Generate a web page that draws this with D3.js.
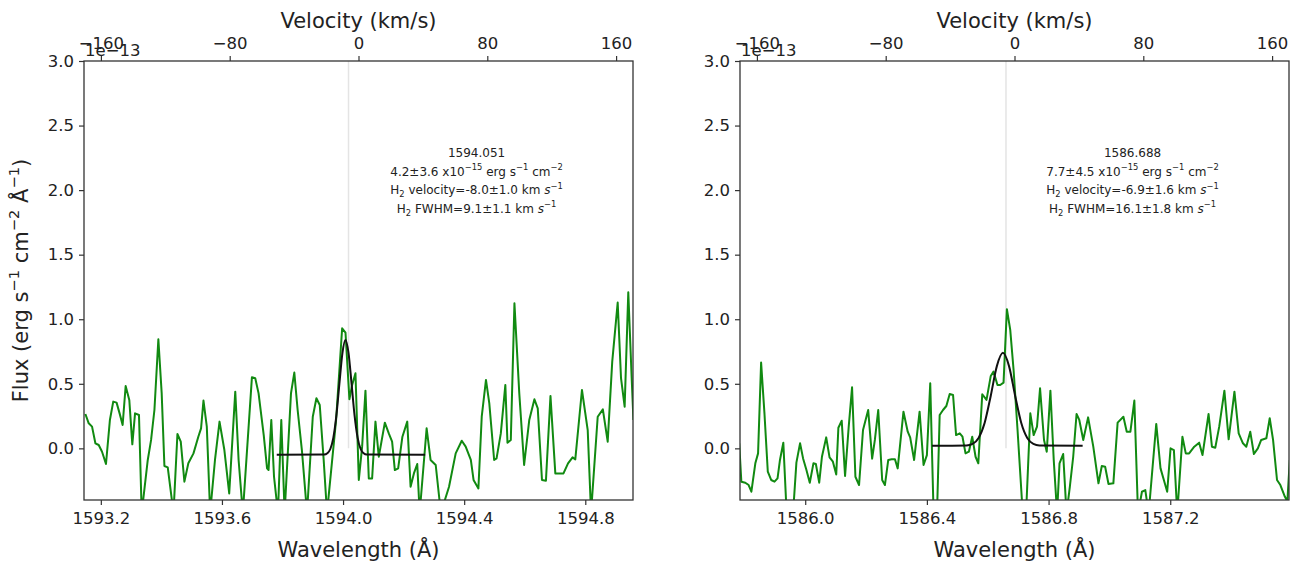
<!DOCTYPE html>
<html lang="en">
<head>
<meta charset="UTF-8">
<title>H2 line fits</title>
<script src="https://d3js.org/d3.v7.min.js"></script>
<style>
    body { margin: 0; background: #fff; }
    svg text { font-family: 'DejaVu Sans', sans-serif; fill: #222; }
    .axis line { stroke: #333; stroke-width: 1.2px; }
    .frame { fill: none; stroke: #333; stroke-width: 1.3px; }
</style>
</head>
<body>
<svg id="chart" width="1291" height="564"></svg>
<script>
const C_KMS = 299792.458;

// ---- panel 1: 1594.051 ----
const restWave1 = 1594.051;
const centerWave1 = 1594.018;
const wave1 = [1593.149,1593.160,1593.171,1593.182,1593.193,1593.204,1593.217,1593.230,1593.241,1593.252,
  1593.262,1593.272,1593.282,1593.294,1593.304,1593.313,1593.326,1593.335,1593.355,1593.366,
  1593.377,1593.390,1593.401,1593.410,1593.421,1593.440,1593.453,1593.464,1593.476,1593.489,
  1593.506,1593.522,1593.531,1593.539,1593.550,1593.561,1593.577,1593.592,1593.608,1593.624,
  1593.644,1593.655,1593.669,1593.699,1593.710,1593.721,1593.738,1593.749,1593.754,1593.763,
  1593.772,1593.785,1593.796,1593.807,1593.828,1593.839,1593.850,1593.864,1593.881,1593.900,
  1593.912,1593.923,1593.936,1593.947,1593.977,1593.997,1594.008,1594.021,1594.030,1594.041,
  1594.052,1594.063,1594.074,1594.085,1594.096,1594.107,1594.118,1594.138,1594.151,1594.162,
  1594.171,1594.182,1594.196,1594.212,1594.223,1594.234,1594.245,1594.253,1594.276,1594.289,
  1594.306,1594.323,1594.350,1594.372,1594.392,1594.405,1594.422,1594.431,1594.447,1594.458,
  1594.472,1594.483,1594.499,1594.507,1594.521,1594.536,1594.543,1594.554,1594.566,1594.582,
  1594.598,1594.615,1594.632,1594.643,1594.657,1594.670,1594.685,1594.701,1594.714,1594.728,
  1594.743,1594.758,1594.767,1594.789,1594.808,1594.819,1594.841,1594.858,1594.874,1594.889,
  1594.907,1594.918,1594.930,1594.942,1594.953,1594.959];
const flux1 = [0.266,0.194,0.168,0.039,0.026,-0.026,-0.121,0.220,0.362,0.354,
  0.271,0.181,0.483,0.375,0.031,0.271,0.258,-0.50,-0.090,0.065,
  0.297,0.845,0.426,-0.137,-0.147,-0.50,0.111,0.052,-0.258,-0.116,
  -0.039,0.090,0.155,0.370,0.168,-0.50,-0.090,0.207,-0.013,-0.349,
  0.439,-0.090,-0.50,0.550,0.543,0.426,0.103,-0.155,-0.168,0.220,
  -0.220,-0.50,0.220,-0.50,0.426,0.587,0.297,-0.013,-0.50,0.245,
  0.388,0.336,-0.090,-0.50,0.220,0.930,0.897,0.380,0.491,0.581,
  -0.245,0.013,0.447,-0.233,-0.233,0.207,-0.065,0.199,0.116,0.052,
  -0.168,-0.155,0.090,0.207,-0.297,-0.194,-0.121,-0.50,0.155,-0.090,
  -0.129,-0.50,-0.297,-0.039,0.059,0.013,-0.090,-0.245,-0.310,0.245,
  0.530,0.349,-0.090,-0.078,0.116,0.491,0.044,0.065,1.124,0.426,
  -0.129,0.220,0.380,0.310,-0.245,-0.251,0.406,-0.194,-0.194,-0.194,
  -0.116,-0.070,-0.085,0.452,0.142,-0.50,0.245,0.302,0.052,0.672,
  1.129,0.543,0.323,1.209,0.556,0.220];
const fitWave1 = [1593.781,1593.938,1593.948,1593.958,1593.968,1593.978,1593.988,1593.998,1594.008,
  1594.018,1594.028,1594.038,1594.048,1594.058,1594.068,1594.078,1594.271];
const fitFlux1 = [-0.05,-0.048,-0.038,-0.005,0.083,0.255,0.503,0.740,0.840,
  0.740,0.503,0.255,0.083,-0.005,-0.038,-0.048,-0.05];
const notes1 = [
    [["1594.051", ""]],
    [["4.2±3.6 x10", ""], ["−15", "sup"], [" erg s", ""], ["−1", "sup"], [" cm", ""], ["−2", "sup"]],
    [["H", ""], ["2", "sub"], [" velocity=-8.0±1.0 km ", ""], ["s", "it"], ["−1", "sup"]],
    [["H", ""], ["2", "sub"], [" FWHM=9.1±1.1 km ", ""], ["s", "it"], ["−1", "sup"]]
];
const waveTicks1 = [1593.2, 1593.6, 1594.0, 1594.4, 1594.8];

// ---- panel 2: 1586.688 ----
const restWave2 = 1586.688;
const centerWave2 = 1586.660;
const wave2 = [1585.783,1585.790,1585.803,1585.814,1585.823,1585.836,1585.845,1585.855,1585.866,1585.877,
  1585.888,1585.899,1585.909,1585.917,1585.928,1585.939,1585.960,1585.971,1585.983,1585.993,
  1586.004,1586.015,1586.027,1586.035,1586.046,1586.055,1586.069,1586.080,1586.091,1586.102,
  1586.109,1586.120,1586.131,1586.143,1586.154,1586.165,1586.177,1586.190,1586.207,1586.220,
  1586.229,1586.240,1586.253,1586.262,1586.273,1586.284,1586.295,1586.304,1586.323,1586.337,
  1586.345,1586.358,1586.376,1586.389,1586.400,1586.411,1586.422,1586.433,1586.442,1586.453,
  1586.464,1586.475,1586.486,1586.496,1586.508,1586.517,1586.527,1586.538,1586.549,1586.560,
  1586.569,1586.582,1586.596,1586.610,1586.619,1586.632,1586.641,1586.652,1586.663,1586.674,
  1586.685,1586.698,1586.715,1586.726,1586.740,1586.751,1586.762,1586.772,1586.785,1586.794,
  1586.806,1586.817,1586.828,1586.836,1586.848,1586.859,1586.870,1586.881,1586.892,1586.901,
  1586.914,1586.930,1586.947,1586.964,1586.975,1586.986,1586.997,1587.013,1587.027,1587.046,
  1587.057,1587.069,1587.082,1587.094,1587.107,1587.118,1587.129,1587.154,1587.168,1587.179,
  1587.190,1587.201,1587.212,1587.223,1587.240,1587.251,1587.262,1587.279,1587.295,1587.306,
  1587.326,1587.337,1587.348,1587.361,1587.378,1587.392,1587.411,1587.425,1587.439,1587.450,
  1587.463,1587.475,1587.488,1587.499,1587.516,1587.527,1587.538,1587.551,1587.562,1587.577,
  1587.585,1587.593];
const flux2 = [0.039,-0.258,-0.266,-0.284,-0.336,-0.116,-0.039,0.664,0.271,-0.181,
  -0.245,-0.258,-0.233,-0.090,0.044,-0.504,-0.504,-0.111,0.039,-0.078,
  -0.168,-0.266,-0.116,-0.121,-0.266,-0.065,0.085,-0.070,-0.103,-0.202,
  0.160,0.214,-0.214,0.168,0.473,-0.220,-0.284,0.142,0.297,-0.080,
  0.065,0.297,-0.245,-0.284,-0.090,-0.085,-0.085,-0.155,0.284,0.129,
  0.085,-0.090,0.284,-0.129,-0.052,0.504,-0.504,-0.530,0.258,0.297,
  0.328,0.421,0.413,0.103,0.116,0.090,-0.039,-0.026,0.090,-0.065,
  -0.116,0.419,0.375,0.561,0.594,0.491,0.491,0.509,1.078,0.917,
  0.607,0.142,-0.50,-0.504,0.271,0.103,0.168,0.465,0.065,-0.026,
  0.447,-0.090,-0.504,-0.116,-0.044,-0.504,-0.297,-0.065,0.266,0.220,
  0.065,0.240,0.013,-0.271,-0.137,-0.142,-0.276,-0.271,0.199,0.245,
  0.129,0.129,0.370,-0.504,-0.336,-0.323,-0.504,0.189,-0.155,-0.245,
  -0.336,0.0,-0.013,-0.504,0.090,-0.039,-0.039,0.013,0.044,-0.052,
  0.266,0.013,0.005,0.168,0.447,0.070,0.439,0.116,0.039,0.013,
  0.129,-0.044,0.0,0.065,0.078,0.233,0.065,-0.245,-0.284,-0.375,
  -0.41,-0.090];
const fitWave2 = [1586.417,1586.530,1586.550,1586.570,1586.590,1586.610,1586.630,1586.650,
  1586.670,1586.690,1586.710,1586.730,1586.750,1586.770,1586.912];
const fitFlux2 = [0.020,0.023,0.035,0.081,0.199,0.408,0.637,0.740,
  0.637,0.408,0.199,0.081,0.035,0.023,0.020];
const notes2 = [
    [["1586.688", ""]],
    [["7.7±4.5 x10", ""], ["−15", "sup"], [" erg s", ""], ["−1", "sup"], [" cm", ""], ["−2", "sup"]],
    [["H", ""], ["2", "sub"], [" velocity=-6.9±1.6 km ", ""], ["s", "it"], ["−1", "sup"]],
    [["H", ""], ["2", "sub"], [" FWHM=16.1±1.8 km ", ""], ["s", "it"], ["−1", "sup"]]
];
const waveTicks2 = [1586.0, 1586.4, 1586.8, 1587.2];

// ---- shared ----
const velTicks = [-160, -80, 0, 80, 160];
const fluxTicks = [0.0, 0.5, 1.0, 1.5, 2.0, 2.5, 3.0];
const fluxDomain = [-0.4, 3.0];
const velHalfRange = 170.5;
const offsetLabel = "1e−13";

const plotTop = 61, plotBottom = 500;
const panels = [
    { left: 84, right: 633, rest: restWave1, center: centerWave1, wave: wave1, flux: flux1,
      fitW: fitWave1, fitF: fitFlux1, notes: notes1, ticks: waveTicks1, yLabel: true },
    { left: 740, right: 1289, rest: restWave2, center: centerWave2, wave: wave2, flux: flux2,
      fitW: fitWave2, fitF: fitFlux2, notes: notes2, ticks: waveTicks2, yLabel: false }
];

const svg = d3.select("#chart");
const minus = s => String(s).replace("-", "−");

// writes text with sub/superscripts as tspans
function richText(sel, parts, fs) {
    let shift = 0;
    parts.forEach(([str, kind]) => {
        const t = sel.append("tspan").text(str);
        let target = 0, size = fs;
        if (kind === "sup") { target = -0.42 * fs; size = fs * 0.7; }
        if (kind === "sub") { target = 0.25 * fs; size = fs * 0.7; }
        if (kind === "it") t.attr("font-style", "italic");
        t.attr("dy", target - shift).attr("font-size", size);
        shift = target;
    });
}

function styleAxis(g, fs) {
    g.select(".domain").remove();
    g.selectAll("text").attr("font-size", fs).attr("font-family", "'DejaVu Sans', sans-serif").attr("fill", "#222");
    g.selectAll("line").attr("stroke", "#333").attr("stroke-width", 1.2);
}

panels.forEach((p, i) => {
    const dw = p.rest * velHalfRange / C_KMS;
    const x = d3.scaleLinear().domain([p.rest - dw, p.rest + dw]).range([p.left, p.right]);
    const v = d3.scaleLinear().domain([-velHalfRange, velHalfRange]).range([p.left, p.right]);
    const y = d3.scaleLinear().domain(fluxDomain).range([plotBottom, plotTop]);

    const clipId = "clip" + i;
    svg.append("clipPath").attr("id", clipId).append("rect")
        .attr("x", p.left).attr("y", plotTop)
        .attr("width", p.right - p.left).attr("height", plotBottom - plotTop);

    const g = svg.append("g").attr("clip-path", `url(#${clipId})`);

    // faint marker at the fitted line centre
    g.append("line")
        .attr("x1", x(p.center)).attr("x2", x(p.center))
        .attr("y1", y(0)).attr("y2", y(3.0))
        .attr("stroke", "#e4e4e4").attr("stroke-width", 1.5);

    const spec = p.wave.map((w, k) => [w, p.flux[k]]);
    g.append("path").datum(spec)
        .attr("fill", "none").attr("stroke", "#118a11").attr("stroke-width", 2)
        .attr("stroke-linejoin", "round")
        .attr("d", d3.line().x(d => x(d[0])).y(d => y(d[1])));

    const fit = p.fitW.map((w, k) => [w, p.fitF[k]]);
    g.append("path").datum(fit)
        .attr("fill", "none").attr("stroke", "#111").attr("stroke-width", 2)
        .attr("d", d3.line().curve(d3.curveMonotoneX).x(d => x(d[0])).y(d => y(d[1])));

    // axes
    svg.append("g").attr("class", "axis")
        .attr("transform", `translate(0,${plotBottom})`)
        .call(d3.axisBottom(x).tickValues(p.ticks).tickFormat(d3.format(".1f")).tickSize(5).tickPadding(7))
        .call(a => styleAxis(a, 16.5));

    svg.append("g").attr("class", "axis")
        .attr("transform", `translate(0,${plotTop})`)
        .call(d3.axisTop(v).tickValues(velTicks).tickFormat(d => minus(d)).tickSize(5).tickPadding(7))
        .call(a => styleAxis(a, 16.5));

    svg.append("g").attr("class", "axis")
        .attr("transform", `translate(${p.left},0)`)
        .call(d3.axisLeft(y).tickValues(fluxTicks).tickFormat(d3.format(".1f")).tickSize(5).tickPadding(5))
        .call(a => styleAxis(a, 16.5));

    svg.append("rect").attr("class", "frame")
        .attr("x", p.left).attr("y", plotTop)
        .attr("width", p.right - p.left).attr("height", plotBottom - plotTop);

    // offset text
    svg.append("text").attr("x", p.left + 1).attr("y", plotTop - 5)
        .attr("font-size", 16.5).text(offsetLabel);

    // axis titles
    const mid = (p.left + p.right) / 2;
    svg.append("text").attr("x", mid).attr("y", 550).attr("dy", "0.35em")
        .attr("text-anchor", "middle").attr("font-size", 21).text("Wavelength (Å)");
    svg.append("text").attr("x", mid).attr("y", 21).attr("dy", "0.35em")
        .attr("text-anchor", "middle").attr("font-size", 21).text("Velocity (km/s)");

    if (p.yLabel) {
        const t = svg.append("text")
            .attr("transform", `translate(28,${(plotTop + plotBottom) / 2}) rotate(-90)`)
            .attr("text-anchor", "middle").attr("dy", "0.35em").attr("font-size", 21);
        richText(t, [["Flux (erg s", ""], ["−1", "sup"], [" cm", ""], ["−2", "sup"], [" Å", ""], ["−1", "sup"], [")", ""]], 21);
    }

    // fit annotation
    const nx = p.left + 0.715 * (p.right - p.left);
    p.notes.forEach((line, k) => {
        const t = svg.append("text").attr("x", nx).attr("y", 157 + k * 18.5)
            .attr("text-anchor", "middle").attr("font-size", 12);
        richText(t, line, 12);
    });
});
</script>
</body>
</html>
